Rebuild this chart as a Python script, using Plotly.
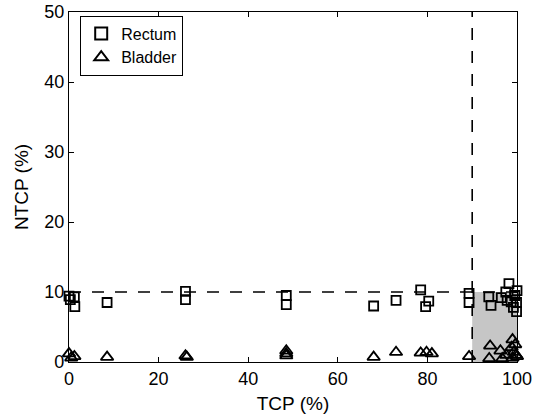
import plotly.graph_objects as go

rectum_tcp = [0, 0.3, 1.2, 1.3, 8.5, 26, 26, 48.5, 48.5, 68, 73, 78.5, 80.3, 79.6,
              89.3, 89.3, 93.7, 94.2, 96.5, 97.5, 98.2, 98.7, 99.2, 99.5, 99.9, 97.8, 99.9, 100]
rectum_ntcp = [9.4, 8.9, 9.3, 7.9, 8.5, 10.1, 8.9, 9.5, 8.2, 8.0, 8.8, 10.3, 8.7, 7.9,
               9.8, 8.5, 9.3, 8.1, 9.2, 10.0, 11.2, 8.6, 7.8, 9.5, 7.2, 8.8, 8.5, 10.2]
bladder_tcp = [0, 0.5, 1.2, 8.5, 26, 26.3, 48.5, 48.5, 48.5, 68, 73, 78.5, 79.8, 81,
               89.3, 94, 93.8, 96.3, 96.7, 97.6, 99, 98.8, 99.3, 99, 99.8, 99.6, 100]
bladder_ntcp = [1.2, 0.6, 0.8, 0.7, 0.9, 0.7, 1.6, 1.2, 0.9, 0.7, 1.4, 1.3, 1.4, 1.2,
                0.8, 2.3, 0.5, 1.6, 0.5, 1.0, 3.2, 2.1, 1.4, 0.6, 1.0, 2.5, 0.8]

tcp_threshold = 90
ntcp_threshold = 10
x_ticks = [0, 20, 40, 60, 80, 100]
y_ticks = [0, 10, 20, 30, 40, 50]

FONT = "Liberation Sans, Arial, sans-serif"

fig = go.Figure()
fig.add_trace(go.Scatter(
    x=rectum_tcp, y=rectum_ntcp, mode="markers", name="Rectum",
    marker=dict(symbol="square-open", size=9, color="black", line=dict(width=1.8)),
    cliponaxis=False))
fig.add_trace(go.Scatter(
    x=bladder_tcp, y=bladder_ntcp, mode="markers", name="Bladder",
    marker=dict(symbol="triangle-up-open", size=11, color="black", line=dict(width=1.8)),
    cliponaxis=False))

fig.add_shape(type="rect", x0=tcp_threshold, x1=100, y0=0, y1=ntcp_threshold,
              fillcolor="#c6c6c6", line=dict(width=0), layer="below")
fig.add_shape(type="line", x0=0, x1=100, y0=ntcp_threshold, y1=ntcp_threshold,
              line=dict(color="black", width=1.6, dash="12px,11px"))
fig.add_shape(type="line", x0=tcp_threshold, x1=tcp_threshold, y0=0, y1=50,
              line=dict(color="black", width=1.6, dash="12px,11px"))

axis_common = dict(showline=True, linecolor="black", linewidth=1.2, mirror="ticks",
                   ticks="inside", ticklen=5, tickcolor="black", tickwidth=1,
                   showgrid=False, zeroline=False, automargin=False,
                   tickfont=dict(family=FONT, size=18, color="black"))

fig.update_xaxes(range=[0, 100], tickvals=x_ticks,
                 title=dict(text="TCP (%)", font=dict(family=FONT, size=19, color="black"), standoff=8),
                 **axis_common)
fig.update_yaxes(range=[0, 50], tickvals=y_ticks,
                 title=dict(text="NTCP (%)", font=dict(family=FONT, size=19, color="black"), standoff=10),
                 **axis_common)

fig.update_layout(
    width=540, height=419,
    margin=dict(l=69, r=23, t=12, b=57),
    paper_bgcolor="white", plot_bgcolor="white",
    font=dict(family=FONT, size=17, color="black"),
    legend=dict(x=0.025, y=0.99, xanchor="left", yanchor="top",
                bordercolor="black", borderwidth=1, bgcolor="white",
                font=dict(family=FONT, size=16, color="black"),
                tracegroupgap=0, itemsizing="constant"),
)

fig.write_html("out.html")
